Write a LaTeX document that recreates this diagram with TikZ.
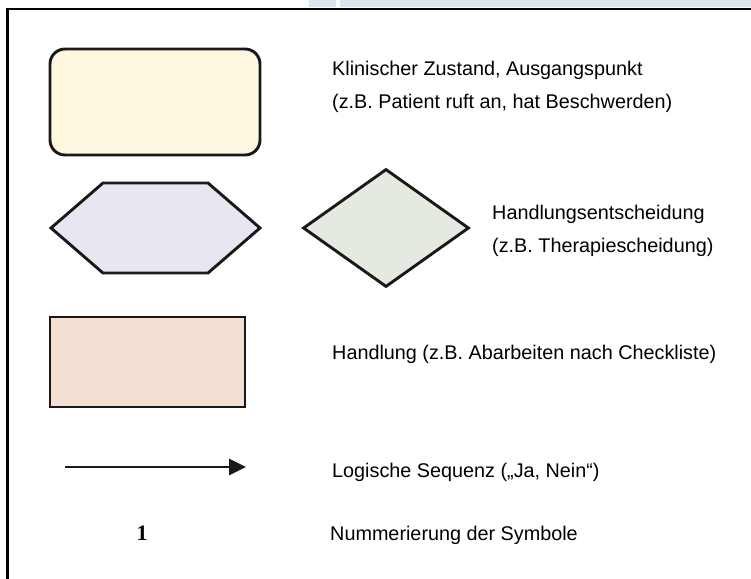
\documentclass[tikz,border=0pt]{standalone}
\usepackage{fontspec}
\setmainfont{Liberation Sans}
\newfontfamily\numfont{Liberation Serif}
\usetikzlibrary{shapes.geometric,arrows.meta}
\definecolor{bandblue}{HTML}{DDE3EF}
\definecolor{creamfill}{HTML}{FEF7DF}
\definecolor{lavfill}{HTML}{E9E5F1}
\definecolor{greenfill}{HTML}{E4EADF}
\definecolor{peachfill}{HTML}{F3E0D2}
\tikzset{
  legendtext/.style={anchor=base west, inner sep=0pt, font=\fontsize{19.8}{24}\selectfont, text=black},
  shapeline/.style={draw=black!90, line width=2.9pt},
  framebox/.style={draw=black, line width=2.5pt},
}
\begin{document}
\begin{tikzpicture}[x=1pt,y=-1pt]
\useasboundingbox (0,0) rectangle (751,578);
\fill[white] (0,0) rectangle (751,578);
% top band
\fill[bandblue] (309,0) rectangle (336,7.5);
\fill[bandblue] (340,0) rectangle (751,7.5);
% frame
\coordinate (fbl) at (7.5,580);
\coordinate (ftl) at (7.5,8.8);
\coordinate (ftr) at (753,8.8);
\draw[framebox, line cap=rect] (fbl) -- (ftl) -- (ftr);
% rounded rectangle
\node[shapeline, fill=creamfill, rounded corners=15pt, minimum width=210pt, minimum height=106pt, inner sep=0pt] (start) at (155,102) {};
% hexagon
\coordinate (h1) at (51,228);
\coordinate (h2) at (103,183);
\coordinate (h3) at (208,183);
\coordinate (h4) at (260,228);
\coordinate (h5) at (208,273);
\coordinate (h6) at (103,273);
\draw[shapeline, fill=lavfill, line join=miter] (h1) -- (h2) -- (h3) -- (h4) -- (h5) -- (h6) -- cycle;
% diamond
\node[shapeline, fill=greenfill, diamond, minimum width=166pt, minimum height=118pt, inner sep=0pt, line join=miter] (dec) at (386,228) {};
% rectangle
\node[shapeline, fill=peachfill, minimum width=195pt, minimum height=90pt, inner sep=0pt] (act) at (147.5,362) {};
% arrow
\coordinate (a1) at (65,467);
\coordinate (a2) at (246,467);
\draw[line width=2.8pt, black!90, -{Triangle[length=17pt,width=16pt]}] (a1) -- (a2);
% number
\node[anchor=base, inner sep=0pt, font=\numfont\bfseries\fontsize{22}{24}\selectfont] (num) at (142,540) {1};
% texts
\node[legendtext] (t1) at (332,75) {Klinischer Zustand, Ausgangspunkt};
\node[legendtext] (t2) at (332,108) {(z.B. Patient ruft an, hat Beschwerden)};
\node[legendtext] (t3) at (492,219) {Handlungsentscheidung};
\node[legendtext] (t4) at (492,252) {(z.B. Therapiescheidung)};
\node[legendtext] (t5) at (332,359) {Handlung (z.B. Abarbeiten nach Checkliste)};
\node[legendtext] (t6) at (332,477) {Logische Sequenz („Ja, Nein“)};
\node[legendtext] (t7) at (330,540) {Nummerierung der Symbole};
\end{tikzpicture}
\end{document}
